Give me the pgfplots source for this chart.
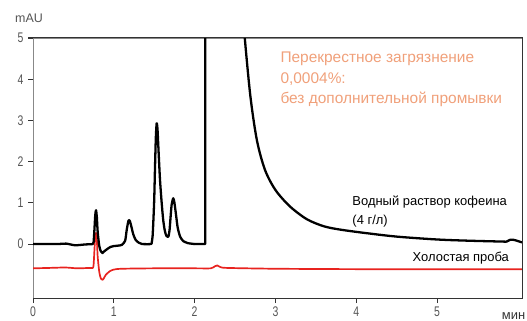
\documentclass[border=0pt]{standalone}
\usepackage{pgfplots}
\pgfplotsset{compat=1.18}
\usepackage{fontspec}
\setmainfont{Liberation Sans}
\newfontfamily\tickfont[FakeStretch=0.75]{Liberation Sans}
\definecolor{axgray}{HTML}{333333}
\definecolor{leftgray}{HTML}{888888}
\definecolor{tickgray}{HTML}{555555}
\definecolor{redline}{HTML}{E8231F}
\definecolor{annot}{HTML}{F0A07A}
\begin{document}
\begin{tikzpicture}
\path[use as bounding box] (-33bp,-23bp) rectangle (494bp,298bp);
\begin{axis}[name=ax,
  at={(0,0)}, anchor=south west,
  scale only axis, width=489bp, height=260bp,
  xmin=0, xmax=6.05, ymin=-1.31, ymax=5,
  xtick={0,1,2,3,4,5}, ytick={0,1,2,3,4,5},
  tick align=outside, major tick length=5bp,
  axis line style={leftgray, line width=0.9pt},
  tick style={axgray, line width=0.9pt},
  xtick pos=bottom, ytick pos=left,
  tick label style={font=\tickfont\fontsize{14}{14}\selectfont, text=tickgray},
  yticklabel style={xshift=-1bp},
  /pgf/number format/assume math mode=true,
  clip=true,
  every axis plot/.append style={line cap=round, line join=round},
]
\addplot[redline, line width=1.7pt, smooth, tension=0.4] coordinates {
(0,-0.59) (0.2,-0.58) (0.4,-0.57) (0.55,-0.59) (0.7,-0.58) (0.74,-0.58) (0.75,-0.5) (0.76,-0.15) (0.77,0.18) (0.78,0.27) (0.79,0.1) (0.80,-0.3) (0.82,-0.68) (0.84,-0.84) (0.86,-0.87) (0.88,-0.82) (0.90,-0.75) (0.95,-0.66) (1.0,-0.62) (1.1,-0.6) (1.5,-0.59) (2.0,-0.59) (2.2,-0.59) (2.25,-0.54) (2.28,-0.52) (2.32,-0.56) (2.4,-0.58) (3.0,-0.6) (4.0,-0.61) (5.0,-0.61) (6.05,-0.61)
};
\addplot[black, line width=2.3pt, smooth, tension=0.4] coordinates {
(0,0) (0.3,0) (0.41,0.01) (0.52,-0.03) (0.65,-0.01) (0.74,0) (0.75,0.05) (0.76,0.35) (0.77,0.7) (0.78,0.82) (0.79,0.65) (0.80,0.3) (0.82,-0.05) (0.84,-0.18) (0.86,-0.22) (0.88,-0.18) (0.92,-0.12) (0.96,-0.07) (1.0,-0.05) (1.05,-0.04) (1.1,-0.02) (1.14,0.08) (1.16,0.35) (1.18,0.56) (1.19,0.58) (1.20,0.55) (1.22,0.4) (1.24,0.24) (1.27,0.1) (1.31,0.03) (1.35,0) (1.46,0) (1.47,0.05) (1.48,0.2) (1.49,0.6) (1.50,1.1) (1.51,1.9) (1.52,2.6) (1.53,2.93) (1.54,2.8) (1.55,2.4) (1.57,1.6) (1.59,1.05) (1.61,0.6) (1.63,0.33) (1.65,0.2) (1.675,0.18) (1.69,0.35) (1.70,0.6) (1.715,0.95) (1.735,1.11) (1.75,1.0) (1.77,0.7) (1.79,0.4) (1.82,0.18) (1.86,0.07) (1.92,0.02) (2.0,0)
};
\addplot[black, line width=2.3pt] coordinates {
(2.0,0) (2.13,0) (2.135,12)
};
\addplot[black, line width=2.3pt, smooth, tension=0.5] coordinates {
(2.58,6) (2.62,5.0) (2.69,3.58) (2.77,2.52) (2.87,1.8) (3.0,1.31) (3.18,0.91) (3.39,0.6) (3.6,0.43) (3.8,0.35) (4.1,0.27) (4.5,0.18) (5.0,0.11) (5.4,0.08) (5.8,0.06) (5.86,0.06) (5.9,0.1) (5.95,0.1) (6.05,0.04)
};
\node[anchor=north west, align=left, text=annot, font=\fontsize{15.5}{20.5}\selectfont, inner sep=0pt] at (axis cs:3.06,4.66) {Перекрестное загрязнение\\0,0004\%:\\без дополнительной промывки};
\node[anchor=north west, align=left, font=\fontsize{13}{19}\selectfont, inner sep=0pt] at (axis cs:3.95,1.17) {Водный раствор кофеина\\(4 г/л)};
\node[anchor=north east, font=\fontsize{13}{19}\selectfont, inner sep=0pt] at (axis cs:5.89,-0.2) {Холостая проба};
\end{axis}
\draw[axgray, line width=1pt] (0bp,0bp) -- (489bp,0bp) -- (489bp,260bp) -- (-5bp,260bp);
\node[anchor=west, text=tickgray, font=\fontsize{12.5}{12}\selectfont, inner sep=0pt] at (-18bp,280bp) {mAU};
\node[anchor=base, text=axgray, font=\fontsize{13}{12}\selectfont, inner sep=0pt] at (480.5bp,-21bp) {мин};
\end{tikzpicture}
\end{document}
